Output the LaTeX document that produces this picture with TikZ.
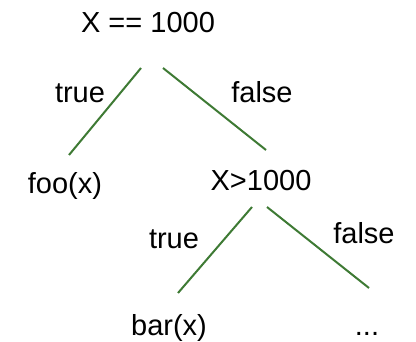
\documentclass[tikz,border=0pt]{standalone}
\usepackage{fontspec}
\setmainfont{Liberation Sans}
\definecolor{edgegreen}{RGB}{62,122,52}
\begin{document}
\begin{tikzpicture}[x=1pt,y=1pt,
  lbl/.style={anchor=base,inner sep=0pt,font=\fontsize{29}{34}\selectfont},
  edge/.style={draw=edgegreen,line width=2pt}]
\useasboundingbox (0,0) rectangle (416,341);
\node[lbl] (top) at (148,308) {X == 1000};
\node[lbl] (t1) at (80,238) {true};
\node[lbl] (f1) at (262,238) {false};
\node[lbl] (foo) at (65,147) {foo(x)};
\node[lbl] (gt) at (261,150) {X>1000};
\node[lbl] (t2) at (174,93) {true};
\node[lbl] (f2) at (364,98) {false};
\node[lbl] (bar) at (169,6) {bar(x)};
\node[lbl] (dots) at (367,6) {...};
\coordinate (a1) at (141,273);
\coordinate (a2) at (69,186);
\coordinate (b1) at (163,273);
\coordinate (b2) at (266,191);
\coordinate (c1) at (252,134);
\coordinate (c2) at (178,48);
\coordinate (d1) at (267,134);
\coordinate (d2) at (369,53);
\draw[edge] (a1) -- (a2);
\draw[edge] (b1) -- (b2);
\draw[edge] (c1) -- (c2);
\draw[edge] (d1) -- (d2);
\end{tikzpicture}
\end{document}
